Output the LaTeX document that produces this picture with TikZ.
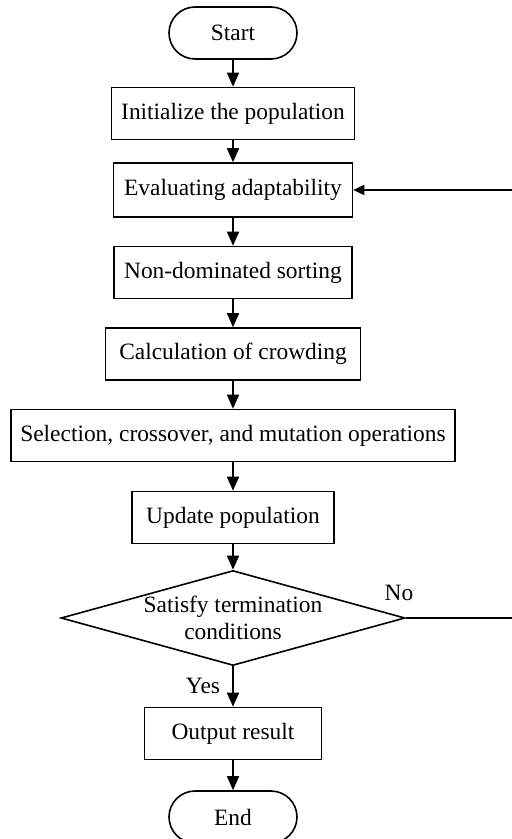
\documentclass[tikz,border=0pt]{standalone}
\usepackage{fontspec}
\setmainfont{Liberation Serif}
\usetikzlibrary{arrows.meta,shapes,positioning}

\begin{document}
\begin{tikzpicture}[x=0.5pt,y=-0.5pt,
  every node/.style={font=\fontsize{11.7}{13.5}\selectfont},
  term/.style={draw,thick,rounded corners=13pt,minimum width=64pt,minimum height=26pt,inner sep=0pt},
  proc/.style={draw,thick,minimum height=26pt,inner sep=0pt},
  decision/.style={draw,thick,diamond,minimum width=172pt,minimum height=47.5pt,inner sep=0pt,shape aspect=3.6},
  flow/.style={-{Triangle[length=7pt,width=6pt]},thick}]
\useasboundingbox (0,0) rectangle (512,839);
% steps
\node[term] (start) at (233,33) {Start};
\node[proc,minimum width=121.5pt] (init) at (233,113.5) {Initialize the population};
\node[proc,minimum width=119.5pt,minimum height=27pt] (eval) at (233,190) {Evaluating adaptability};
\node[proc,minimum width=119pt] (sort) at (233,272.5) {Non-dominated sorting};
\node[proc,minimum width=127.5pt] (crowd) at (233,354) {Calculation of crowding};
\node[proc,minimum width=222pt] (select) at (233,435.5) {Selection, crossover, and mutation operations};
\node[proc,minimum width=101pt] (update) at (233,517.5) {Update population};
\node[decision] (check) at (233,618) {};
\node[align=center] (checktxt) at (check) {Satisfy termination\\conditions};
\node[proc,minimum width=88.5pt] (output) at (233,733.5) {Output result};
\node[term] (end) at (233,817) {End};
% labels
\node (no) at (399,593) {No};
\node (yes) at (203,686) {Yes};
% arrows
\draw[flow] (start) -- (init);
\draw[flow] (init) -- (eval);
\draw[flow] (eval) -- (sort);
\draw[flow] (sort) -- (crowd);
\draw[flow] (crowd) -- (select);
\draw[flow] (select) -- (update);
\draw[flow] (update) -- (check);
\draw[flow] (check) -- (output);
\draw[flow] (output) -- (end);
\coordinate (back) at (514,618);
\draw[flow,-{Triangle[length=5.5pt,width=5pt]}] (check.east) -- (back) |- (eval.east);
\end{tikzpicture}
\end{document}
